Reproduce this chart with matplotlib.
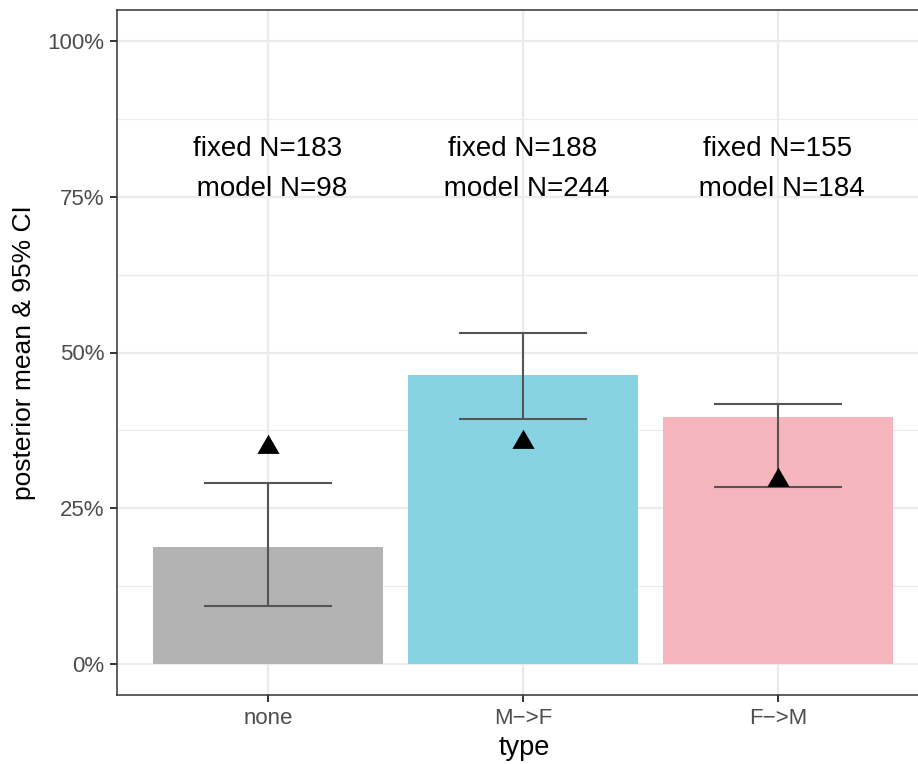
#!/usr/bin/env python3

import numpy as np
import matplotlib.pyplot as plt
from matplotlib.ticker import FixedLocator, FuncFormatter

# values
types = ["none", "M\u2212>F", "F\u2212>M"]
fixed_mean = [0.188, 0.464, 0.396]
ci_low = [0.093, 0.394, 0.284]
ci_high = [0.291, 0.532, 0.418]
model_mean = [0.348, 0.357, 0.296]
fixed_n = [183, 188, 155]
model_n = [98, 244, 184]
bar_colors = ["#B3B3B3", "#87D3E2", "#F5B5BD"]

plt.rcParams["font.family"] = ["Liberation Sans", "DejaVu Sans"]

fig = plt.figure(figsize=(9.18, 7.64), dpi=100)
ax = fig.add_axes([117 / 918, 69 / 764, 814 / 918, 685 / 764])

x = np.arange(1, len(types) + 1)

# grid like theme_bw
for v in [0.125, 0.375, 0.625, 0.875]:
    ax.axhline(v, color="#EBEBEB", lw=0.9, zorder=0)
for v in [0, 0.25, 0.5, 0.75, 1.0]:
    ax.axhline(v, color="#EBEBEB", lw=1.6, zorder=0)
for v in x:
    ax.axvline(v, color="#EBEBEB", lw=1.6, zorder=0)

ax.bar(x, fixed_mean, width=0.9, color=bar_colors, zorder=2)
ax.vlines(x, ci_low, ci_high, color="#555555", lw=1.5, zorder=3)
ax.hlines(ci_low, x - 0.25, x + 0.25, color="#555555", lw=1.5, zorder=3)
ax.hlines(ci_high, x - 0.25, x + 0.25, color="#555555", lw=1.5, zorder=3)

tri = [(-1, -0.577), (1, -0.577), (0, 1.155)]
ax.scatter(x, model_mean, marker=tri, s=340, color="black", zorder=4, linewidths=0)

for i in range(len(types)):
    ax.text(x[i], 0.816, "fixed N=%d" % fixed_n[i], ha="center", va="baseline",
            fontsize=20, color="black")
    ax.text(x[i], 0.752, " model N=%d" % model_n[i], ha="center", va="baseline",
            fontsize=20, color="black")

ax.set_xlim(0.408, 3.6)
ax.set_ylim(-0.05, 1.05)
ax.set_xticks(x)
ax.set_xticklabels(types)
ax.yaxis.set_major_locator(FixedLocator([0, 0.25, 0.5, 0.75, 1.0]))
ax.yaxis.set_major_formatter(FuncFormatter(lambda v, p: "%d%%" % round(v * 100)))

ax.tick_params(axis="both", colors="#333333", labelcolor="#4D4D4D",
               labelsize=16, length=5, width=1.4, pad=4)
for s in ax.spines.values():
    s.set_color("#333333")
    s.set_linewidth(1.1)

ax.set_xlabel("type", fontsize=19.5, color="black", labelpad=5)
ax.set_ylabel("posterior mean & 95% CI", fontsize=19, color="black", labelpad=8)

fig.savefig("out.png", dpi=100)
